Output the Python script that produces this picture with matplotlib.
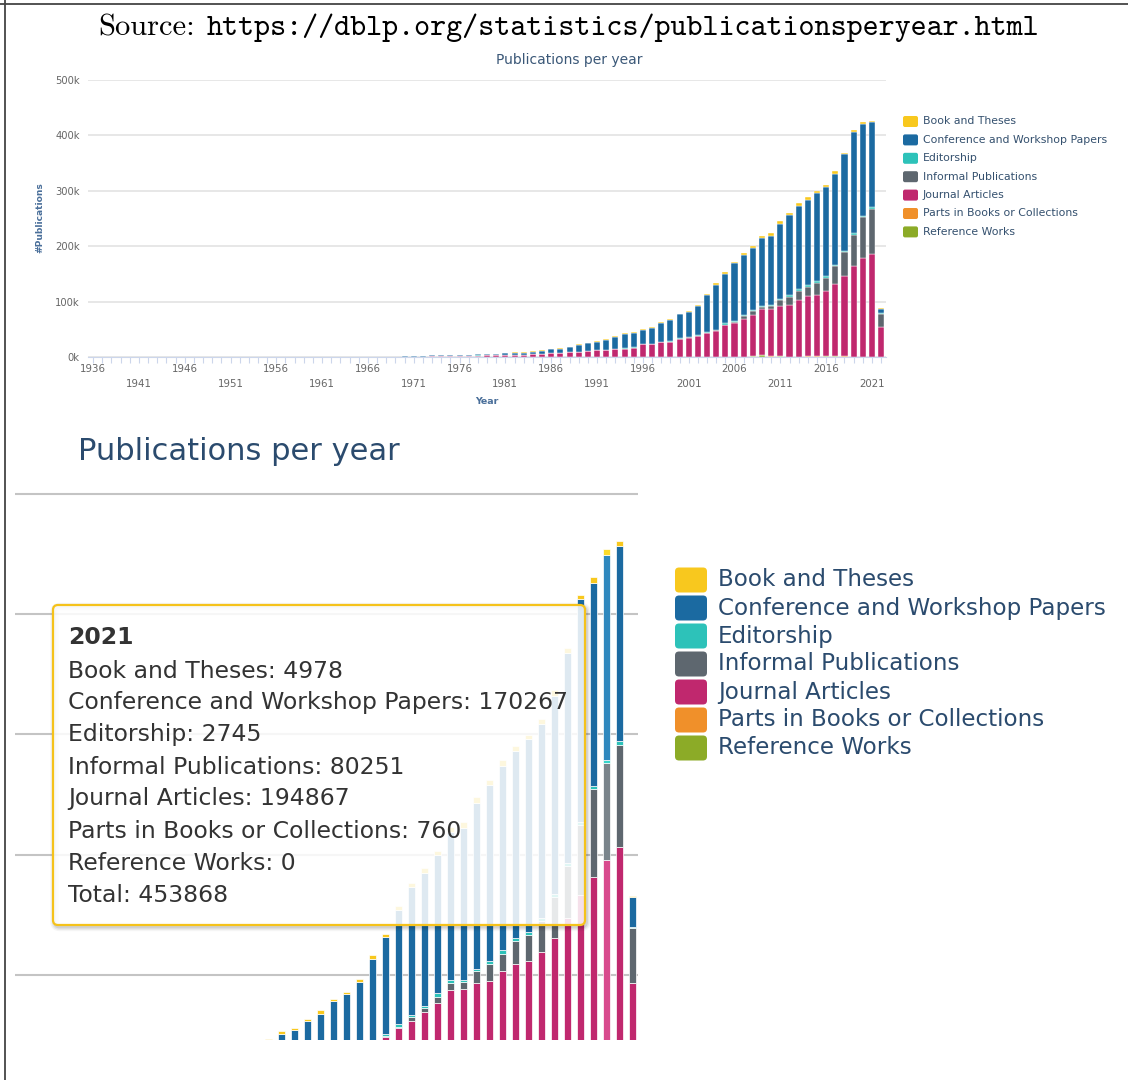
import matplotlib
matplotlib.use('Agg')
import matplotlib.pyplot as plt
import numpy as np
from matplotlib.patches import FancyBboxPatch
from matplotlib.lines import Line2D

plt.rcParams['font.family'] = ['DejaVu Sans']

W, H = 1128, 1080

series = ['Book and Theses', 'Conference and Workshop Papers', 'Editorship',
          'Informal Publications', 'Journal Articles', 'Parts in Books or Collections',
          'Reference Works']
colors = ['#f8c81e', '#1b6aa1', '#2dc2b9', '#5e676f', '#c0286e', '#f0902a', '#8cab27']
hover_colors = ['#fddb2a', '#2f88be', '#37d6cb', '#7a848b', '#d84a8d', '#f7a448', '#a0bd36']

# upper chart: older snapshot, 1970-2022 (earlier years are too small to see)
top_years = list(range(1970, 2023))
top_book = [150, 100, 100, 600, 200, 200, 200, 200, 300, 300,
            300, 300, 800, 600, 600, 900, 1000, 1100, 1100, 1300,
            1300, 1200, 1200, 1300, 1300, 1200, 1200, 1200, 1200, 1500,
            1500, 1500, 2000, 2000, 3000, 3500, 3000, 4000, 3500, 4000,
            5000, 5000, 4000, 5000, 4000, 3000, 4000, 5000, 3000, 3000,
            3000, 2000, 1000]
top_conf = [800, 1300, 700, 400, 600, 600, 500, 500, 2400, 2300,
            1800, 3000, 4000, 3800, 4700, 6000, 6700, 7400, 8900, 12400,
            14200, 15000, 18000, 22200, 25500, 25800, 25500, 28500, 34000, 37000,
            42000, 45000, 52000, 66500, 80000, 88500, 104000, 108000, 112600, 122000,
            124000, 135500, 144600, 150600, 154800, 159600, 160800, 163800, 173500, 183000,
            165700, 153600, 7800]
top_edit = [50, 50, 60, 60, 70, 70, 80, 80, 90, 100,
            100, 110, 120, 130, 150, 160, 170, 180, 200, 200,
            200, 300, 300, 500, 500, 600, 600, 800, 800, 2000,
            1500, 1200, 1800, 2000, 1500, 3000, 2500, 2000, 2000, 2000,
            2000, 2000, 3000, 2500, 2500, 3000, 3000, 2500, 2500, 2500,
            2500, 3500, 1000]
top_informal = [0, 0, 300, 0, 0, 0, 0, 0, 0, 0,
                0, 0, 0, 0, 0, 0, 0, 0, 0, 0,
                0, 0, 0, 0, 0, 0, 100, 100, 150, 200,
                300, 300, 400, 500, 600, 1000, 1500, 5000, 6000, 4000,
                5000, 9600, 14000, 17000, 15700, 21700, 24000, 33000, 43400, 56600,
                73500, 80700, 24000]
top_journal = [900, 700, 1000, 2600, 2800, 2800, 2900, 2900, 3200, 3300,
               3400, 3800, 4200, 4600, 5400, 6000, 7200, 7500, 9000, 9200,
               10800, 12600, 13000, 14500, 15700, 17500, 23500, 23500, 27000, 28000,
               33500, 35500, 38500, 43000, 48000, 57000, 61000, 69000, 74500, 82000,
               86000, 91000, 94600, 101800, 109800, 110800, 117000, 129000, 144800, 163900,
               178900, 186700, 54200]
top_parts = [0, 0, 0, 300, 0, 0, 0, 0, 0, 0,
             0, 0, 0, 0, 0, 0, 0, 0, 0, 0,
             0, 0, 0, 0, 0, 0, 0, 0, 0, 0,
             0, 0, 0, 0, 0, 800, 300, 300, 200, 0,
             500, 0, 0, 1000, 1500, 1200, 800, 1000, 600, 500,
             400, 300, 0]
top_ref = [0, 0, 0, 0, 0, 0, 0, 0, 0, 0,
           0, 0, 0, 0, 0, 0, 0, 0, 0, 0,
           0, 0, 0, 0, 0, 0, 0, 0, 0, 0,
           0, 0, 0, 0, 0, 0, 0, 0, 2000, 5000,
           1000, 2000, 0, 0, 0, 500, 1500, 1500, 1000, 300,
           0, 0, 0]

# lower chart: newer snapshot, 1995-2023, hovered year 2021
bot_years = list(range(1995, 2024))
bot_book = [1400, 1800, 1500, 1500, 3500, 1800, 1800, 2200, 3300, 2000,
            3500, 3300, 4000, 3500, 4000, 5000, 5000, 4000, 5000, 4000,
            3000, 4000, 5000, 3500, 3500, 4700, 4978, 4200, 1500]
bot_conf = [27500, 27000, 29500, 33000, 36500, 42500, 46500, 53000, 67000, 81000,
            95000, 106000, 110000, 115000, 123000, 126000, 138000, 146500, 153000, 155500,
            160500, 161000, 165000, 175000, 185000, 169000, 170267, 162000, 25000]
bot_edit = [600, 700, 800, 900, 2000, 1600, 1300, 1800, 2100, 1800,
            2500, 1500, 1800, 3300, 2800, 2000, 2000, 2500, 2800, 3000,
            2500, 3000, 2500, 2500, 2500, 2800, 2745, 3300, 500]
bot_informal = [0, 100, 100, 150, 200, 300, 300, 400, 500, 600,
                1000, 3500, 3500, 5000, 5500, 6000, 9700, 13900, 14700, 18600,
                21900, 26000, 33500, 43000, 58000, 72900, 80251, 84800, 46000]
bot_journal = [17500, 23500, 24000, 27500, 28500, 34000, 36000, 39000, 43500, 48500,
               55000, 61500, 69000, 74500, 82500, 86500, 91500, 95000, 102000, 108000,
               110000, 116500, 128500, 146000, 166000, 181000, 194867, 206000, 93000]
bot_parts = [0, 0, 0, 0, 0, 0, 0, 0, 0, 0,
             800, 300, 300, 200, 0, 500, 0, 0, 1000, 1500,
             1200, 800, 1000, 600, 500, 400, 760, 500, 100]
bot_ref = [0, 0, 0, 0, 0, 0, 0, 0, 0, 0,
           0, 0, 0, 2000, 5000, 1000, 2000, 0, 0, 0,
           500, 1500, 1500, 1000, 300, 0, 0, 0, 0]
hover_year = 2021

top_data = [top_book, top_conf, top_edit, top_informal, top_journal, top_parts, top_ref]
bot_data = [bot_book, bot_conf, bot_edit, bot_informal, bot_journal, bot_parts, bot_ref]

fig = plt.figure(figsize=(W / 100, H / 100), dpi=100)


def rect(x0, y0, x1, y1):
    return [x0 / W, 1 - y1 / H, (x1 - x0) / W, (y1 - y0) / H]


# ---------- upper chart ----------
ax = fig.add_axes(rect(88, 80, 886, 357.3))
base = np.zeros(len(top_years))
for i in range(len(series) - 1, -1, -1):  # stacked from the last series upwards
    vals = np.array(top_data[i], dtype=float)
    ax.bar(top_years, vals, width=0.66, bottom=base, color=colors[i],
           edgecolor='white', linewidth=0.3, zorder=2)
    base += vals
ax.set_xlim(1935.45, 2022.53)
ax.set_ylim(0, 500000)
ax.set_yticks(range(0, 500001, 100000))
ax.set_yticklabels([f'{v // 1000}k' for v in range(0, 500001, 100000)])
ax.grid(axis='y', color='#e3e3e3', linewidth=1.2)
ax.set_axisbelow(True)
for s in ['top', 'right', 'left']:
    ax.spines[s].set_visible(False)
ax.spines['bottom'].set_color('#ccd6eb')
ax.tick_params(axis='y', length=0, labelsize=7.2, labelcolor='#666666', pad=6)
ax.set_xticks(range(1936, 2022, 5))
ax.set_xticklabels([str(y) for y in range(1936, 2022, 5)])
ax.set_xticks(range(1936, 2023), minor=True)
ax.tick_params(axis='x', which='both', direction='out', length=4.5, width=0.8,
               color='#ccd6eb', labelsize=7.4, labelcolor='#666666')
for k, t in enumerate(ax.xaxis.get_major_ticks()):
    t.set_pad(0.5 if k % 2 == 0 else 11)

# ---------- lower chart (zoomed screenshot) ----------
bx = fig.add_axes(rect(15, 480, 638, 1040))
base = np.zeros(len(bot_years))
hi = bot_years.index(hover_year)
for i in range(len(series) - 1, -1, -1):
    vals = np.array(bot_data[i], dtype=float)
    cols = [hover_colors[i] if j == hi else colors[i] for j in range(len(bot_years))]
    bx.bar(bot_years, vals, width=0.58, bottom=base, color=cols,
           edgecolor='white', linewidth=0.5, zorder=2)
    base += vals
bx.set_xlim(1975.48, 2023.41)
bx.set_ylim(46000, 511500)
bx.set_yticks(range(100000, 500001, 100000))
bx.grid(axis='y', color='#c4c4c4', linewidth=1.5)
bx.set_axisbelow(True)
bx.tick_params(length=0, labelleft=False, labelbottom=False)
bx.set_xticks([])
for s in bx.spines.values():
    s.set_visible(False)

# ---------- overlay in pixel coordinates ----------
ov = fig.add_axes([0, 0, 1, 1], zorder=10)
ov.set_xlim(0, W)
ov.set_ylim(H, 0)
ov.axis('off')

ov.add_line(Line2D([5, 5], [0, H], color='#444444', lw=1.3))
ov.add_line(Line2D([0, W], [4, 4], color='#444444', lw=1.3))

ov.text(98, 35, 'Source:', family='cmr10', fontsize=22, ha='left', va='baseline')
ov.text(207, 35, 'https://dblp.org/statistics/publicationsperyear.html',
        family='cmtt10', fontsize=22, ha='left', va='baseline')

ov.text(569, 60, 'Publications per year', fontsize=10, color='#3b5878',
        ha='center', va='center')
ov.text(40, 218, '#Publications', fontsize=6.6, fontweight='bold', color='#4a6f9a',
        rotation=90, ha='center', va='center')
ov.text(487, 401, 'Year', fontsize=6.8, fontweight='bold', color='#4a6f9a',
        ha='center', va='center')

# upper legend
for i, name in enumerate(series):
    yc = 121.5 + i * 18.4
    ov.add_patch(FancyBboxPatch((903, yc - 5.5), 15, 11, boxstyle='round,pad=0,rounding_size=2',
                                facecolor=colors[i], edgecolor='none'))
    ov.text(923, yc, name, fontsize=7.8, color='#34506e', ha='left', va='center')

# lower title and legend
ov.text(78, 452, 'Publications per year', fontsize=22, color='#2b4b6e', ha='left', va='center')
for i, name in enumerate(series):
    yc = 580 + i * 28
    ov.add_patch(FancyBboxPatch((675, yc - 12.5), 32, 25, boxstyle='round,pad=0,rounding_size=4',
                                facecolor=colors[i], edgecolor='none'))
    ov.text(718, yc, name, fontsize=16.6, color='#2b4b6e', ha='left', va='center')

# tooltip
for w, a in [(6, 0.04), (4, 0.06), (2, 0.09)]:
    ov.add_patch(FancyBboxPatch((54.5, 607), 532, 320, boxstyle='round,pad=0,rounding_size=5',
                                facecolor='none', edgecolor=(0, 0, 0, a), linewidth=w))
ov.add_patch(FancyBboxPatch((53, 605), 532, 320, boxstyle='round,pad=0,rounding_size=5',
                            facecolor=(1, 1, 1, 0.86), edgecolor='#f5c21a', linewidth=1.6))
ov.text(68, 638, str(hover_year), fontsize=16.9, fontweight='bold', color='#333333',
        ha='left', va='center')
total = 0
for i, name in enumerate(series):
    v = bot_data[i][hi]
    total += v
    ov.text(68, 671 + i * 32, f'{name}: {v}', fontsize=16.9, color='#333333',
            ha='left', va='center')
ov.text(68, 671 + len(series) * 32, f'Total: {total}', fontsize=16.9, color='#333333',
        ha='left', va='center')

fig.savefig('out.png', dpi=100)
